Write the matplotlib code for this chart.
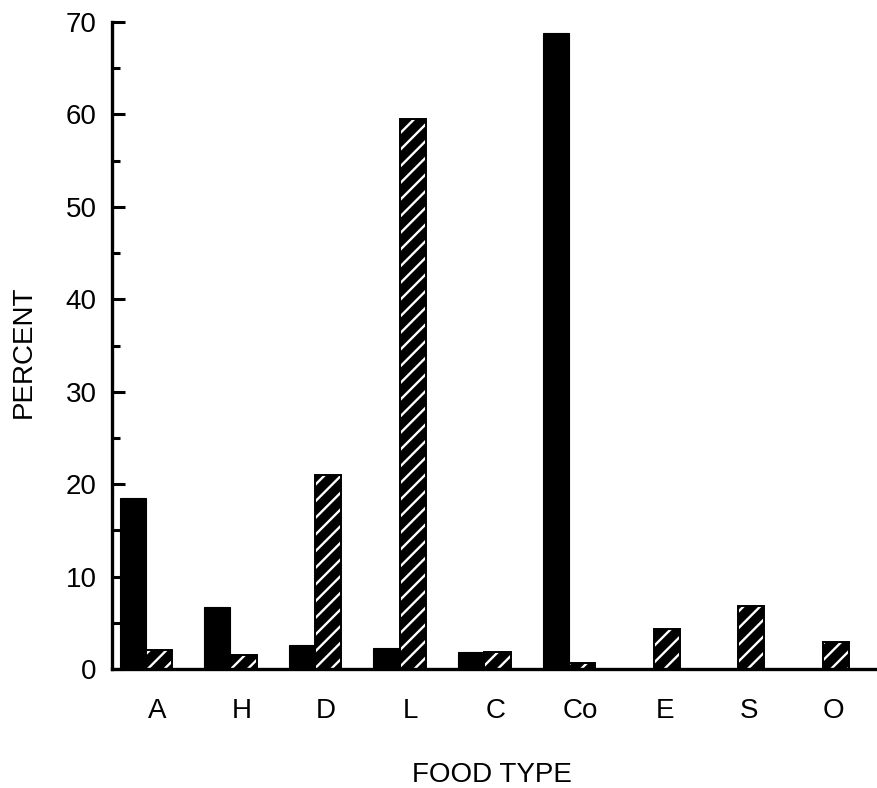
import matplotlib
matplotlib.use("Agg")
import matplotlib.pyplot as plt
import numpy as np

categories = ["A", "H", "D", "L", "C", "Co", "E", "S", "O"]
solid_values = [18.5, 6.7, 2.6, 2.3, 1.8, 68.8, 0, 0, 0]
hatched_values = [2.05, 1.5, 21.0, 59.5, 1.8, 0.7, 4.3, 6.8, 2.95]
y_ticks = [0, 10, 20, 30, 40, 50, 60, 70]

plt.rcParams['font.family'] = ['Liberation Sans', 'DejaVu Sans']
plt.rcParams['hatch.linewidth'] = 1.7

fig = plt.figure(figsize=(8.77, 7.88), dpi=100)
ax = fig.add_axes([0.1277, 0.151, 0.8723, 0.821])

x = np.arange(len(categories))
w = 0.31
ax.bar(x - w / 2, solid_values, width=w, color='black', edgecolor='black', linewidth=0.8)
ax.bar(x + w / 2, hatched_values, width=w, color='black', edgecolor='white',
       hatch='//', linewidth=0)
ax.bar(x + w / 2, hatched_values, width=w, fill=False, edgecolor='black', linewidth=1.4)

ax.set_xlim(-0.40, 8.64)
ax.set_ylim(0, 70)
ax.set_yticks(y_ticks)
ax.set_yticks(np.arange(5, 70, 10), minor=True)
ax.set_xticks(x + 0.13)
ax.set_xticklabels(categories)

for s in ['top', 'right']:
    ax.spines[s].set_visible(False)
for s in ['left', 'bottom']:
    ax.spines[s].set_linewidth(2.4)
    ax.spines[s].set_color('black')

ax.tick_params(axis='y', which='major', direction='in', length=9.5, width=2.2, pad=11, labelsize=20)
ax.tick_params(axis='y', which='minor', direction='in', length=6, width=2.2)
ax.tick_params(axis='x', length=0, pad=21, labelsize=20)

ax.set_xlabel("FOOD TYPE", fontsize=20)
ax.set_ylabel("PERCENT", fontsize=20)
ax.xaxis.set_label_coords(0.497, -0.143)
ax.yaxis.set_label_coords(-0.099, 0.49)

fig.savefig("out.png", dpi=100)
